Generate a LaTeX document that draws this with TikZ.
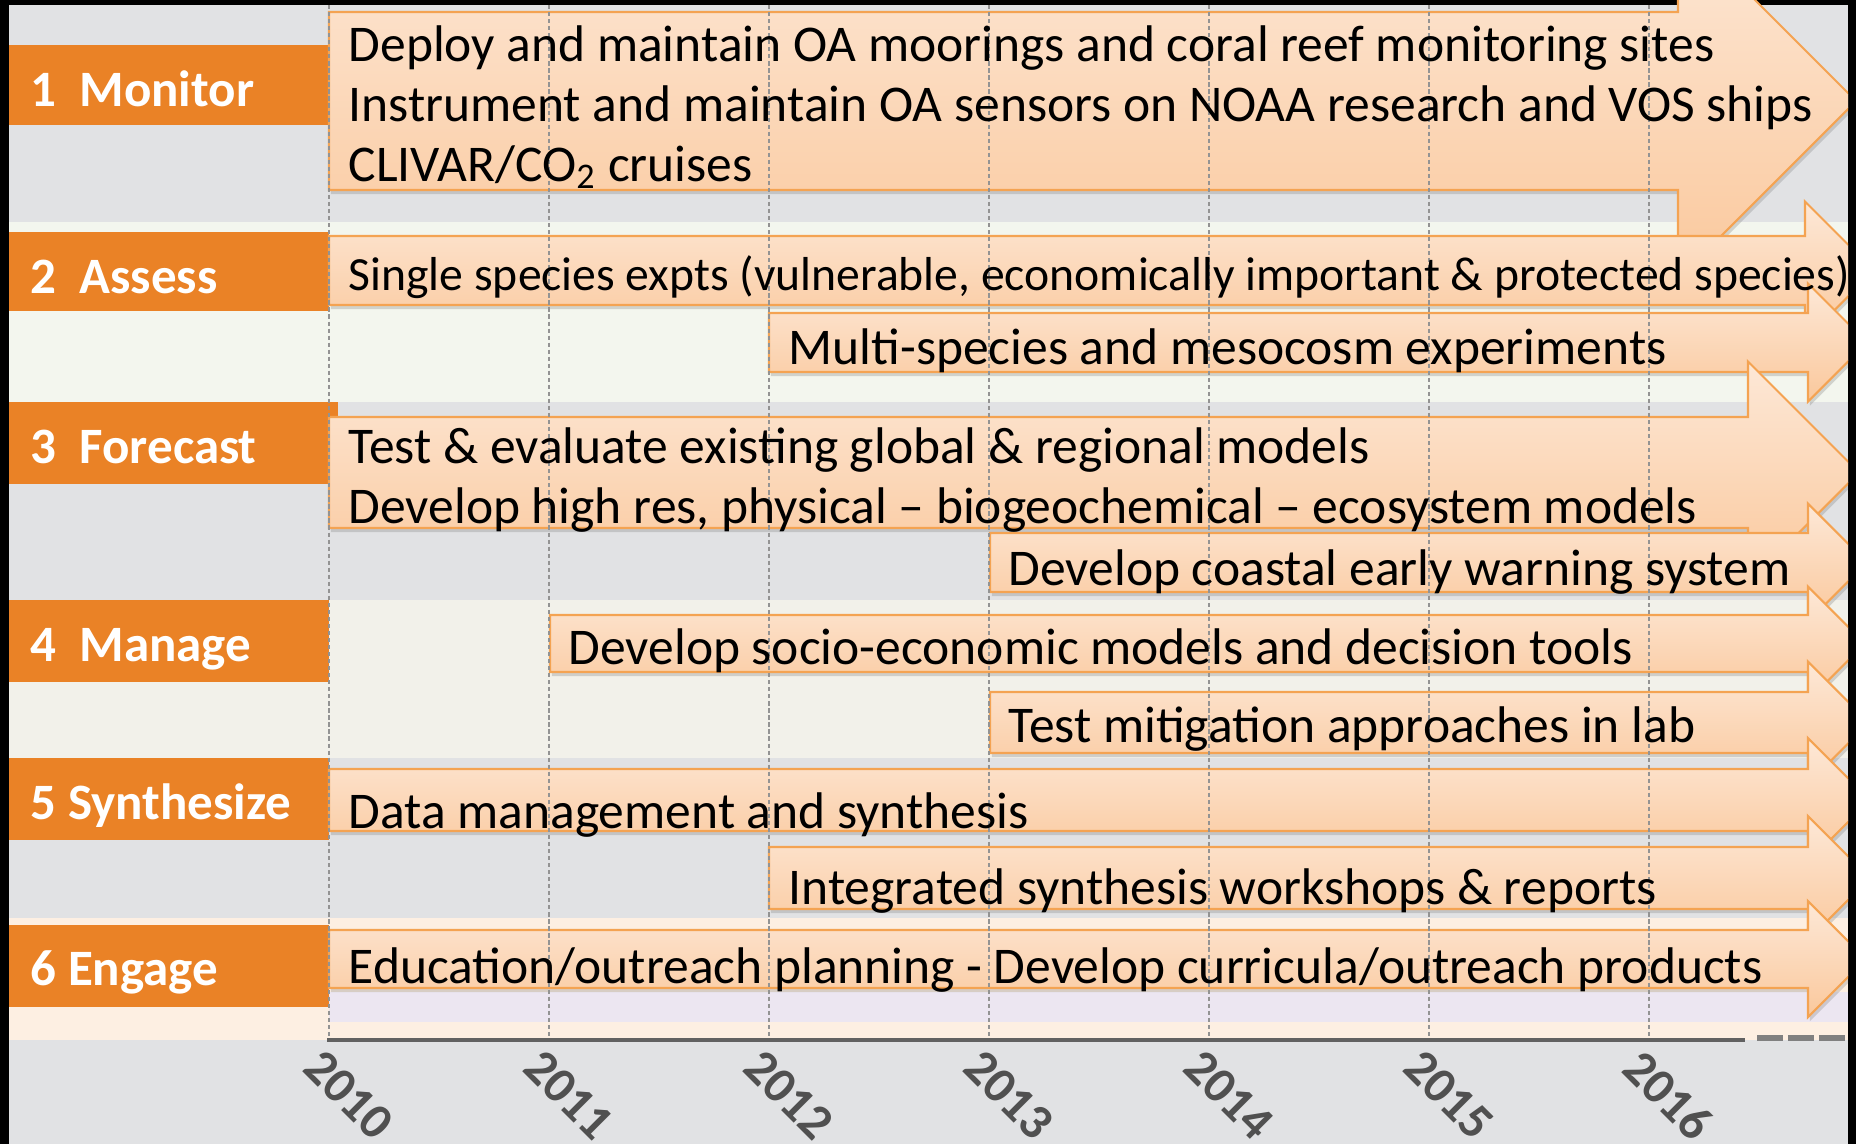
\documentclass[tikz,border=0pt]{standalone}
\usepackage{fontspec}
\setmainfont{Carlito}
\usetikzlibrary{shadows}

\definecolor{bandgray}{HTML}{E1E2E4}
\definecolor{bandgreen}{HTML}{F3F6EE}
\definecolor{bandcream}{HTML}{F2F1EA}
\definecolor{bandpeach}{HTML}{FDEFE2}
\definecolor{bandlilac}{HTML}{ECE6F1}
\definecolor{orng}{HTML}{EA8226}
\definecolor{bartop}{HTML}{FDE8D7}
\definecolor{barbot}{HTML}{FAC89C}
\definecolor{barline}{HTML}{F4A352}
\definecolor{yeargray}{HTML}{505050}

\begin{document}
\begin{tikzpicture}[x=0.01cm, y=-0.01cm,
    lbl/.style={anchor=base west, inner sep=0pt, text=white, font=\fontsize{14.5}{17}\selectfont\bfseries},
    txt/.style={anchor=base west, inner sep=0pt, font=\fontsize{14.65}{17.1}\selectfont},
    ganttbar/.style={draw=barline, line width=0.6pt, top color=bartop, bottom color=barbot,
        drop shadow={shadow xshift=0.5pt, shadow yshift=-1.2pt, opacity=0.3}},
    yearline/.style={gray!85, line width=0.35pt, dash pattern=on 1.2pt off 0.8pt},
    yearlbl/.style={anchor=north west, inner sep=0pt, rotate=-45, text=yeargray, font=\fontsize{14.3}{16}\selectfont\bfseries}]

\useasboundingbox (0,0) rectangle (1856,1144);
\fill[black] (0,0) rectangle (1856,1144);

\begin{scope}
\clip (9,0) rectangle (1848,1144);

% bands
\fill[bandgray]  (9,5)    rectangle (1848,222);
\fill[bandgreen] (9,222)  rectangle (1848,402);
\fill[bandgray]  (9,402)  rectangle (1848,600);
\fill[bandcream] (9,600)  rectangle (1848,758);
\fill[bandgray]  (9,758)  rectangle (1848,918);
\fill[bandpeach] (9,918)  rectangle (1848,1040);
\fill[bandlilac] (329,992) rectangle (1848,1022);
\fill[bandgray]  (9,1040) rectangle (1848,1144);

% orange labels
\fill[orng] (9,45)  rectangle (329,125);
\fill[orng] (9,232) rectangle (329,311);
\fill[orng] (9,402) rectangle (338,484);
\fill[orng] (9,600) rectangle (329,682);
\fill[orng] (9,758) rectangle (329,840);
\fill[orng] (9,925) rectangle (329,1007);

% arrows
\draw[ganttbar] (329,12) -- (1678,12) -- (1678,-77) -- (1856,101) -- (1678,279) -- (1678,190) -- (329,190) -- cycle;
\draw[ganttbar] (329,236) -- (1805,236) -- (1805,201.5) -- (1874,270.5) -- (1805,339.5) -- (1805,305) -- (329,305) -- cycle;
\draw[ganttbar] (769,313) -- (1808,313) -- (1808,283.5) -- (1867,342.5) -- (1808,401.5) -- (1808,372) -- (769,372) -- cycle;
\draw[ganttbar] (329,417) -- (1748,417) -- (1748,361.5) -- (1859,472.5) -- (1748,583.5) -- (1748,528) -- (329,528) -- cycle;
\draw[ganttbar] (990,533) -- (1808,533) -- (1808,503.5) -- (1867,562.5) -- (1808,621.5) -- (1808,592) -- (990,592) -- cycle;
\draw[ganttbar] (550,615) -- (1808,615) -- (1808,586.5) -- (1865,643.5) -- (1808,700.5) -- (1808,672) -- (550,672) -- cycle;
\draw[ganttbar] (990,692) -- (1808,692) -- (1808,661.5) -- (1869,722.5) -- (1808,783.5) -- (1808,753) -- (990,753) -- cycle;
\draw[ganttbar] (329,769) -- (1808,769) -- (1808,738) -- (1870,800) -- (1808,862) -- (1808,831) -- (329,831) -- cycle;
\draw[ganttbar] (769,847) -- (1808,847) -- (1808,816) -- (1870,878) -- (1808,940) -- (1808,909) -- (769,909) -- cycle;
\draw[ganttbar] (329,930) -- (1808,930) -- (1808,901) -- (1866,959) -- (1808,1017) -- (1808,988) -- (329,988) -- cycle;

% year grid
\foreach \i in {0,...,6} {
    \pgfmathtruncatemacro{\yr}{2010+\i}
    \draw[yearline] (329+220*\i,5) -- (329+220*\i,1040);
    \node[yearlbl] (Y\yr) at (325+220*\i,1046) {\yr};
}

% labels
\node[lbl] (L1) at (30,106) {1\ \ Monitor};
\node[lbl] (L2) at (30,293) {2\ \ Assess};
\node[lbl] (L3) at (30,463) {3\ \ Forecast};
\node[lbl] (L4) at (30,661) {4\ \ Manage};
\node[lbl] (L5) at (30,819) {5 Synthesize};
\node[lbl] (L6) at (30,985) {6 Engage};

% activities
\node[txt] (T1) at (348,61) {\begin{tabular}[t]{@{}l@{}}Deploy and maintain OA moorings and coral reef monitoring sites\\
    Instrument and maintain OA sensors on NOAA research and VOS ships\\
    CLIVAR/CO\textsubscript{2} cruises\end{tabular}};
\node[txt, font=\fontsize{13.55}{16}\selectfont] (T2) at (348,290) {Single species expts (vulnerable, economically important \& protected species)};
\node[txt] (T3) at (788,364) {Multi-species and mesocosm experiments};
\node[txt] (T4) at (348,463) {\begin{tabular}[t]{@{}l@{}}Test \& evaluate existing global \& regional models\\
    Develop high res, physical -- biogeochemical -- ecosystem models\end{tabular}};
\node[txt] (T5) at (1008,585) {Develop coastal early warning system};
\node[txt] (T6) at (568,664) {Develop socio-economic models and decision tools};
\node[txt] (T7) at (1008,742) {Test mitigation approaches in lab};
\node[txt] (T8) at (348,828) {Data management and synthesis};
\node[txt] (T9) at (788,904) {Integrated synthesis workshops \& reports};
\node[txt] (T10) at (348,983) {Education/outreach planning - Develop curricula/outreach products};

% axis
\draw[yeargray!90, line width=1.1pt] (327,1040) -- (1745,1040);
%\draw[yeargray!90, line width=1.1pt] (1745,1040) -- (1848,1040);
\draw[gray, line width=1.7pt, dash pattern=on 7.4pt off 1.4pt] (1757,1038) -- (1848,1038);

\end{scope}
\end{tikzpicture}
\end{document}
